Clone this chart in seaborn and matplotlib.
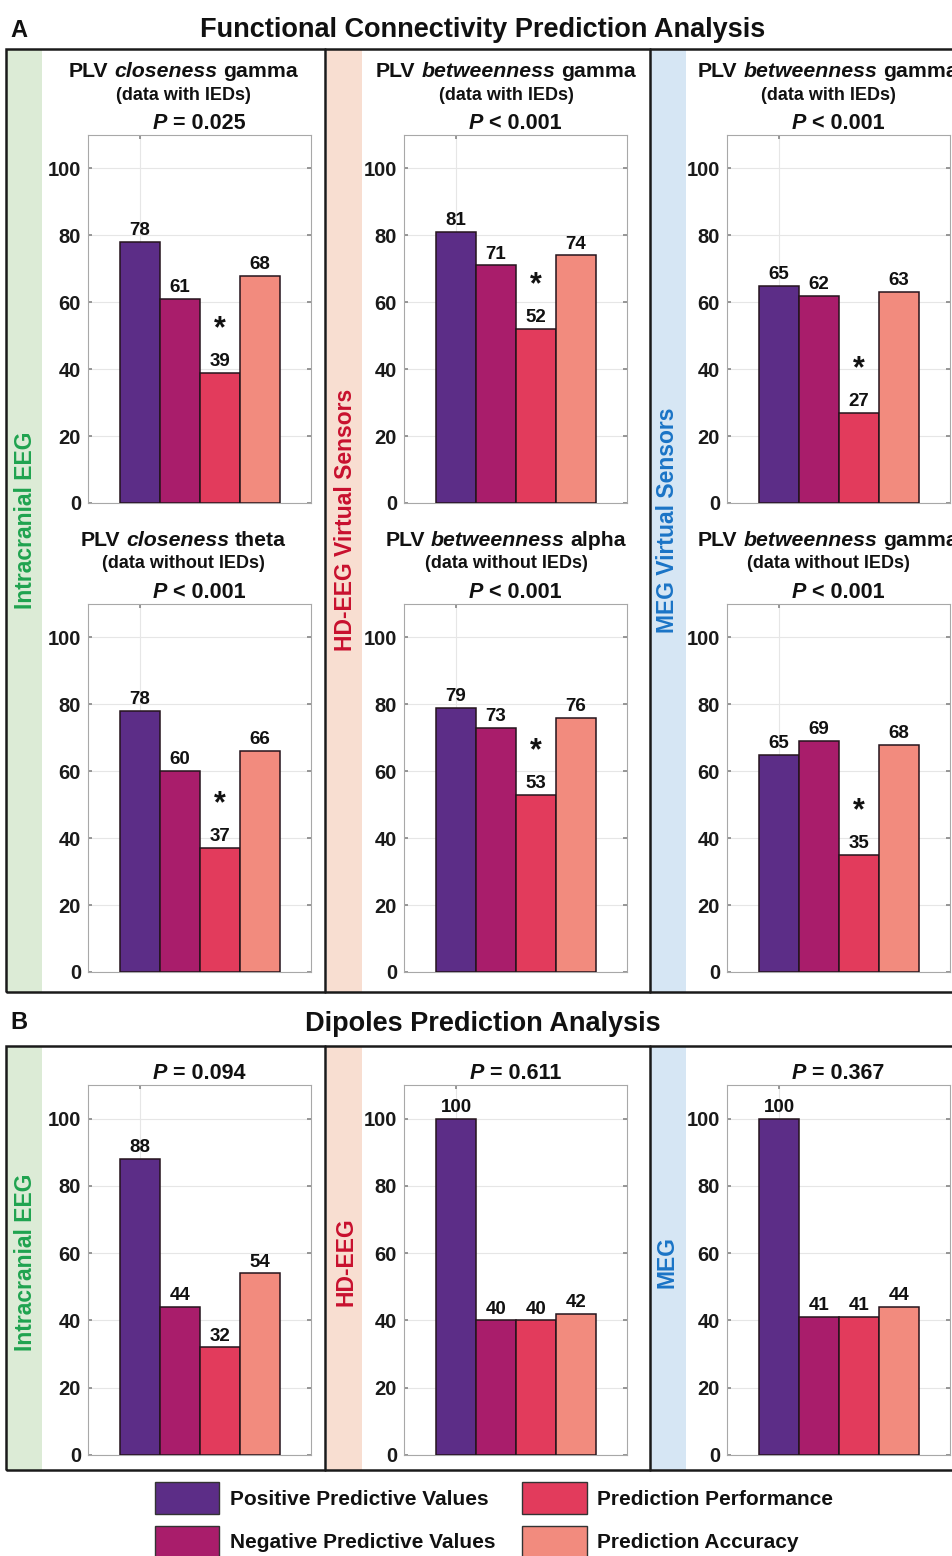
import pandas as pd
import seaborn as sns
import matplotlib.pyplot as plt
from matplotlib.patches import Rectangle, Patch
from matplotlib.lines import Line2D

# bar categories and colours
metrics = ['Positive Predictive Values', 'Negative Predictive Values',
           'Prediction Performance', 'Prediction Accuracy']
colors = ['#5c2d87', '#a91d6b', '#e23b5c', '#f28b7e']

# functional connectivity, data with IEDs
ieeg_with = [78, 61, 39, 68]
hdeeg_with = [81, 71, 52, 74]
meg_with = [65, 62, 27, 63]
# functional connectivity, data without IEDs
ieeg_without = [78, 60, 37, 66]
hdeeg_without = [79, 73, 53, 76]
meg_without = [65, 69, 35, 68]
# dipoles
ieeg_dip = [88, 44, 32, 54]
hdeeg_dip = [100, 40, 40, 42]
meg_dip = [100, 41, 41, 44]

top_titles = [('closeness', 'gamma'), ('betweenness', 'gamma'), ('betweenness', 'gamma')]
bottom_titles = [('closeness', 'theta'), ('betweenness', 'alpha'), ('betweenness', 'gamma')]
p_top = ['= 0.025', '< 0.001', '< 0.001']
p_bottom = ['< 0.001', '< 0.001', '< 0.001']
p_dip = ['= 0.094', '= 0.611', '= 0.367']

labels_a = ['Intracranial EEG', 'HD-EEG Virtual Sensors', 'MEG Virtual Sensors']
labels_b = ['Intracranial EEG', 'HD-EEG', 'MEG']
label_colors = ['#1fa34f', '#c8102e', '#1a74c6']
strip_colors = ['#dcebd6', '#f8ded1', '#d6e6f4']

sns.set_theme(style='white')
plt.rcParams['font.family'] = ['Liberation Sans', 'DejaVu Sans']

W, H = 952, 1556
fig = plt.figure(figsize=(W / 100, H / 100), dpi=100)
renderer = fig.canvas.get_renderer()

ax_left = [88, 404, 727]
col_center = [183.5, 506, 828]
strip_x = [7, 327, 651]
side_x = [26, 346, 667]


def fx(px):
    return px / W


def fy(py):
    return 1 - py / H


def text_width(s, size, italic):
    t = fig.text(0, 0, s, fontsize=size, fontweight='bold',
                 style='italic' if italic else 'normal')
    w = t.get_window_extent(renderer).width
    t.remove()
    return w


def rich(x, y, pieces, size):
    # pieces of bold text, some italic, centred on x with baseline y
    sp = text_width('a a', size, False) - text_width('aa', size, False)
    widths = [text_width(s, size, it) for s, it in pieces]
    cx = x - (sum(widths) + sp * (len(pieces) - 1)) / 2
    for (s, it), w in zip(pieces, widths):
        fig.text(fx(cx), fy(y), s, fontsize=size, fontweight='bold',
                 style='italic' if it else 'normal', ha='left', va='baseline',
                 color='#111111')
        cx += w + sp


def panel(px_left, py_top, py_h, vals, star):
    ax = fig.add_axes([fx(px_left), fy(py_top + py_h), 223 / W, py_h / H])
    df = pd.DataFrame({'metric': metrics, 'value': vals})
    sns.barplot(data=df, x='metric', y='value', hue='metric', order=metrics,
                hue_order=metrics, palette=colors, saturation=1, width=1.0,
                edgecolor='#24141c', linewidth=1.1, legend=False, ax=ax,
                zorder=3)
    for c in ax.containers:
        ax.bar_label(c, fmt='%d', padding=2, fontsize=13.5, fontweight='bold',
                     color='#111111')
    if star:
        ax.text(2, vals[2] + 13, '*', ha='center', va='center', fontsize=22,
                fontweight='bold', color='#111111')
    ax.set_xlim(-1.3, 4.275)
    ax.set_ylim(0, 110)
    ax.set_yticks(range(0, 101, 20))
    ax.set_xticks([0])
    ax.set_xticklabels([''])
    ax.set_xlabel('')
    ax.set_ylabel('')
    ax.set_axisbelow(True)
    ax.grid(True, color='#e6e6e6', linewidth=0.8)
    ax.tick_params(direction='in', length=3, color='#8a8a8a', left=True,
                   right=True, top=True, bottom=True, labelsize=14.5, pad=5,
                   labelcolor='#1a1a1a')
    for lab in ax.get_yticklabels():
        lab.set_fontweight('bold')
    for s in ax.spines.values():
        s.set_color('#a8a8a8')
        s.set_linewidth(0.8)
    return ax


# coloured strips and frames
for (top, bottom) in [(49, 992), (1046, 1470)]:
    for i in range(3):
        fig.add_artist(Rectangle((fx(strip_x[i]), fy(bottom)), 35 / W,
                                 (bottom - top) / H, transform=fig.transFigure,
                                 facecolor=strip_colors[i], edgecolor='none',
                                 zorder=0))
    fig.add_artist(Rectangle((fx(6), fy(bottom)), fx(960 - 6), (bottom - top) / H,
                             transform=fig.transFigure, fill=False,
                             edgecolor='#1a1a1a', linewidth=1.8, zorder=5))
    for sx in [325, 650]:
        fig.add_artist(Line2D([fx(sx), fx(sx)], [fy(top), fy(bottom)],
                              transform=fig.transFigure, color='#1a1a1a',
                              linewidth=1.8, zorder=5))

# section headings
fig.text(fx(10), fy(37), 'A', fontsize=17, fontweight='bold', ha='left',
         va='baseline', color='#111111')
fig.text(fx(483), fy(37), 'Functional Connectivity Prediction Analysis',
         fontsize=19.5, fontweight='bold', ha='center', va='baseline', color='#111111')
fig.text(fx(10), fy(1029), 'B', fontsize=17, fontweight='bold', ha='left',
         va='baseline', color='#111111')
fig.text(fx(483), fy(1031), 'Dipoles Prediction Analysis',
         fontsize=19.5, fontweight='bold', ha='center', va='baseline', color='#111111')

# side labels
for i in range(3):
    fig.text(fx(side_x[i]), fy(520), labels_a[i], rotation=90, ha='center',
             va='center', fontsize=16.5, fontweight='bold', color=label_colors[i])
    fig.text(fx(side_x[i]), fy(1262), labels_b[i], rotation=90, ha='center',
             va='center', fontsize=16.5, fontweight='bold', color=label_colors[i])

rows = [
    (135, 368, [ieeg_with, hdeeg_with, meg_with], top_titles, p_top,
     '(data with IEDs)', True),
    (604, 368, [ieeg_without, hdeeg_without, meg_without], bottom_titles, p_bottom,
     '(data without IEDs)', True),
    (1085, 370, [ieeg_dip, hdeeg_dip, meg_dip], None, p_dip, None, False),
]

for py_top, py_h, data, titles, pvals, sub, star in rows:
    for i in range(3):
        panel(ax_left[i], py_top, py_h, data[i], star)
        axc = ax_left[i] + 111.5
        rich(axc, py_top - 6, [('P', True), (pvals[i], False)], 15.5)
        if titles is not None:
            rich(col_center[i], py_top - 58,
                 [('PLV', False), (titles[i][0], True), (titles[i][1], False)], 15.3)
            fig.text(fx(col_center[i]), fy(py_top - 40), sub, fontsize=13,
                     fontweight='bold', ha='center', va='center', color='#111111')

# legend
handles = [Patch(facecolor=c, edgecolor='#333333', linewidth=1.0) for c in colors]
leg = fig.legend(handles, metrics, loc='center', bbox_to_anchor=(fx(494), fy(1520)),
                 ncol=2, frameon=False, fontsize=15, handlelength=3.1,
                 handleheight=2.0, handletextpad=0.5, columnspacing=1.3,
                 labelspacing=0.55, borderpad=0)
for t in leg.get_texts():
    t.set_fontweight('bold')
    t.set_color('#111111')

fig.savefig('out.png', dpi=100)
